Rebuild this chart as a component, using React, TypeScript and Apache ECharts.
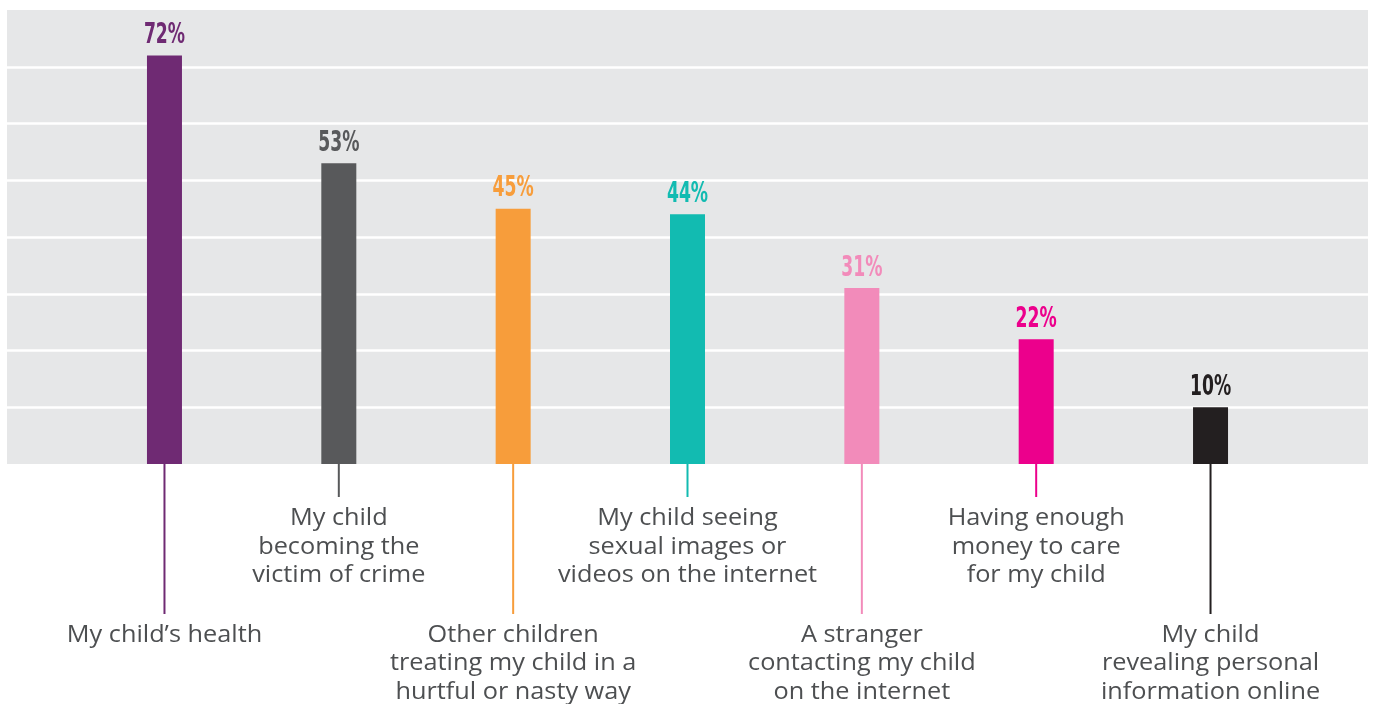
import React, { useEffect, useRef } from "react";
import * as echarts from "echarts";

const categories = [
  "My child’s health",
  "My child\nbecoming the\nvictim of crime",
  "Other children\ntreating my child in a\nhurtful or nasty way",
  "My child seeing\nsexual images or\nvideos on the internet",
  "A stranger\ncontacting my child\non the internet",
  "Having enough\nmoney to care\nfor my child",
  "My child\nrevealing personal\ninformation online",
];
const values = [72, 53, 45, 44, 31, 22, 10];
const valueLabels = ["72%", "53%", "45%", "44%", "31%", "22%", "10%"];
const colors = ["#6f2a73", "#58595b", "#f79d3b", "#12bbb1", "#f28bba", "#ec008c", "#231f20"];
const yTicks = [0, 10, 20, 30, 40, 50, 60, 70, 80];

const LABEL_FONT = "'Open Sans', 'Noto Sans', sans-serif";
const VALUE_FONT = "'Liberation Sans Narrow', 'DejaVu Sans Condensed', 'Liberation Sans', sans-serif";

export default function App() {
  const ref = useRef<HTMLDivElement>(null);
  useEffect(() => {
    if (!ref.current) return;
    const chart = echarts.init(ref.current, null, { renderer: "svg" });
    const option: any = {
      animation: false,
      grid: [
        { left: 77.3, right: 75.3, top: 10, bottom: 240 },
        {
          left: 7,
          right: 5,
          top: 10,
          bottom: 240,
          show: true,
          backgroundColor: "#e6e7e8",
          borderWidth: 0,
          z: 0,
        },
      ],
      xAxis: [
        {
          type: "category",
          gridIndex: 0,
          data: categories,
          axisLine: { show: false },
          axisTick: { show: false },
          axisLabel: { show: false },
          splitLine: { show: false },
        },
        {
          type: "value",
          gridIndex: 1,
          min: 0,
          max: 1,
          show: false,
        },
      ],
      yAxis: [
        {
          type: "value",
          gridIndex: 0,
          min: yTicks[0],
          max: yTicks[yTicks.length - 1],
          interval: 10,
          show: false,
          splitLine: { show: false },
        },
        {
          type: "value",
          gridIndex: 1,
          min: yTicks[0],
          max: yTicks[yTicks.length - 1],
          interval: 10,
          axisLine: { show: false },
          axisTick: { show: false },
          axisLabel: { show: false },
          splitLine: {
            show: true,
            showMinLine: false,
            showMaxLine: false,
            lineStyle: { color: "#ffffff", width: 2.5 },
          },
          z: 1,
        },
      ],
      series: [
        {
          type: "bar",
          xAxisIndex: 0,
          yAxisIndex: 0,
          barWidth: 35,
          z: 3,
          data: values.map((v, i) => ({ value: v, itemStyle: { color: colors[i] } })),
        },
        {
          type: "custom",
          xAxisIndex: 0,
          yAxisIndex: 0,
          z: 4,
          clip: false,
          data: values.map((v, i) => [i, v]),
          renderItem: (params: any, api: any) => {
            const i = api.value(0);
            const v = api.value(1);
            const base = api.coord([i, 0]);
            const top = api.coord([i, v]);
            const long = i % 2 === 0;
            const lineLen = long ? 150 : 33;
            const textY = long ? 618.8 : 502;
            return {
              type: "group",
              children: [
                {
                  type: "line",
                  shape: { x1: base[0], y1: base[1], x2: base[0], y2: base[1] + lineLen },
                  style: { stroke: colors[i], lineWidth: 2 },
                },
                {
                  type: "text",
                  x: base[0],
                  y: textY,
                  scaleX: 1.1,
                  style: {
                    text: categories[i],
                    fill: "#4d4f51",
                    font: `400 23px ${LABEL_FONT}`,
                    align: "center",
                    verticalAlign: "top",
                    lineHeight: 28.4,
                  },
                },
                {
                  type: "text",
                  x: top[0],
                  y: top[1] - 8,
                  scaleX: 0.66,
                  style: {
                    text: valueLabels[i],
                    fill: colors[i],
                    font: `bold 29px ${VALUE_FONT}`,
                    align: "center",
                    verticalAlign: "bottom",
                  },
                },
              ],
            };
          },
        },
      ],
    };
    chart.setOption(option);
    return () => chart.dispose();
  }, []);
  return (
    <div
      ref={ref}
      style={{ position: "fixed", left: 0, top: 0, width: 1373, height: 704 }}
    />
  );
}
